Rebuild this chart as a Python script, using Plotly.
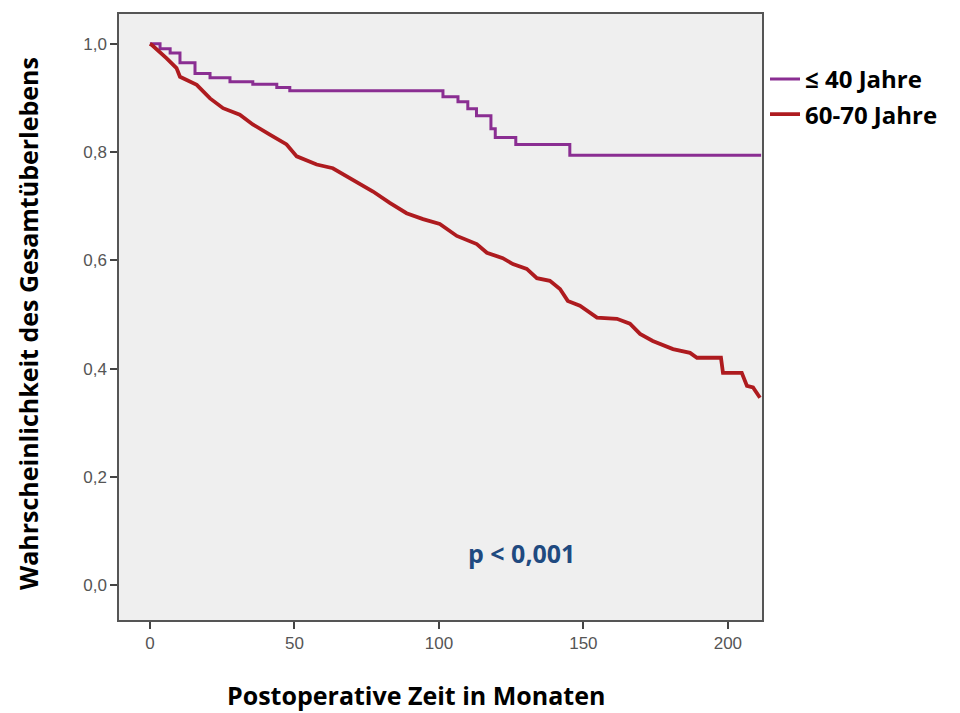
import plotly.graph_objects as go

# ≤ 40 Jahre (step curve)
young_t = [0, 3.5, 7.0, 10.4, 15.6, 20.8, 27.7, 35.6, 43.9, 48.4, 101.4, 106.6, 110.0, 113.0, 118.0, 119.5, 126.6, 145.3, 211.5]
young_s = [1.0, 0.991, 0.983, 0.965, 0.945, 0.937, 0.930, 0.925, 0.919, 0.913, 0.902, 0.893, 0.880, 0.867, 0.843, 0.827, 0.814, 0.794, 0.794]

# 60-70 Jahre
old_t = [0, 0.6, 5.8, 9.2, 10.4, 16.2, 20.8, 25.3, 31.1, 35.6, 41.5, 47.3, 50.8, 57.7, 63.3, 66.8,
         71.5, 77.2, 83.0, 88.8, 94.5, 100.3, 106.2, 113.1, 116.6, 122.1, 125.6, 130.4, 133.9,
         138.4, 141.9, 144.6, 148.8, 154.7, 161.6, 166.1, 169.6, 174.0, 181.0, 186.9, 189.3,
         197.6, 198.3, 204.8, 206.6, 208.7, 211.1]
old_s = [1.0, 0.998, 0.973, 0.955, 0.939, 0.924, 0.899, 0.881, 0.869, 0.851, 0.832, 0.814, 0.792, 0.777,
         0.770, 0.759, 0.746, 0.727, 0.706, 0.687, 0.676, 0.667, 0.645, 0.630, 0.614, 0.604, 0.593,
         0.584, 0.567, 0.562, 0.547, 0.525, 0.516, 0.494, 0.492, 0.483, 0.464, 0.451, 0.436, 0.429,
         0.420, 0.420, 0.392, 0.392, 0.368, 0.365, 0.346]

y_ticks = [0.0, 0.2, 0.4, 0.6, 0.8, 1.0]
y_tick_labels = ["0,0", "0,2", "0,4", "0,6", "0,8", "1,0"]
x_ticks = [0, 50, 100, 150, 200]
x_tick_labels = ["0", "50", "100", "150", "200"]

TITLE_FONT = "Open Sans, Lato, sans-serif"

fig = go.Figure()
fig.add_trace(go.Scatter(x=young_t, y=young_s, mode="lines", name="≤ 40 Jahre", legendgroup="a",
                         line=dict(color="#8A2E92", width=3, shape="hv")))
fig.add_trace(go.Scatter(x=old_t, y=old_s, mode="lines", name="60-70 Jahre", legendgroup="b",
                         line=dict(color="#AE1B1F", width=3.8, shape="linear")))

axis_common = dict(showgrid=False, zeroline=False, showline=True, linecolor="#555555",
                   linewidth=1.5, mirror=True, ticks="outside", ticklen=7, tickwidth=1.5,
                   tickcolor="#444444",
                   tickfont=dict(family="Liberation Sans, Arial", size=17, color="#555555"))

# page has an 8px body margin; plot area target: x 119..762, y 12..620
fig.update_layout(
    width=952, height=705,
    margin=dict(l=111, r=198, t=4, b=93),
    paper_bgcolor="white", plot_bgcolor="#EFEFEF",
    xaxis=dict(range=[-10.7, 211.8], tickvals=x_ticks, ticktext=x_tick_labels, **axis_common),
    yaxis=dict(range=[-0.0645, 1.055], tickvals=y_ticks, ticktext=y_tick_labels, **axis_common),
    showlegend=True,
    legend=dict(x=(765 - 119) / 643, y=(620 - 55) / 608, xanchor="left", yanchor="top",
                bgcolor="rgba(0,0,0,0)",
                font=dict(family=TITLE_FONT, size=24, color="black", weight="bold"),
                tracegroupgap=1, itemwidth=30),
    annotations=[
        dict(text="<b>p < 0,001</b>", xref="paper", yref="paper",
             x=(521 - 119) / 643, y=(620 - 553) / 608, xanchor="center", yanchor="middle",
             showarrow=False, font=dict(family=TITLE_FONT, size=25, color="#1F4A80")),
        dict(text="<b>Postoperative Zeit in Monaten</b>", xref="paper", yref="paper",
             x=(416 - 119) / 643, y=-(695 - 620) / 608, xanchor="center", yanchor="middle",
             showarrow=False, font=dict(family=TITLE_FONT, size=25, color="black")),
        dict(text="<b>Wahrscheinlichkeit des Gesamtüberlebens</b>", xref="paper", yref="paper",
             x=(28 - 119) / 643, y=(620 - 323) / 608, xanchor="center", yanchor="middle",
             showarrow=False, textangle=-90,
             font=dict(family=TITLE_FONT, size=25, color="black")),
    ],
)

fig.write_html("out.html")
